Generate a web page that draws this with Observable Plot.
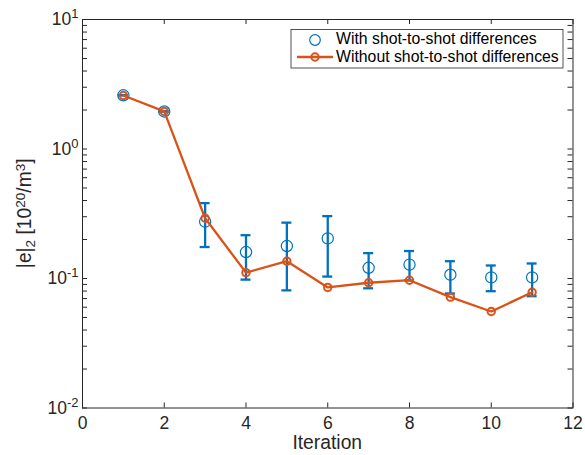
<!DOCTYPE html>
<html><head><meta charset="utf-8">
<script src="https://cdn.jsdelivr.net/npm/d3@7"></script>
<script src="https://cdn.jsdelivr.net/npm/@observablehq/plot@0.6"></script>
<style>
body{margin:0;background:#fff;}
#chart{width:585px;height:455px;}
</style></head><body><div id="chart"></div>
<script>
// ---- data ----
const iterations = [1, 2, 3, 4, 5, 6, 7, 8, 9, 10, 11];
const withShot   = [2.60, 1.95, 0.275, 0.160, 0.178, 0.204, 0.121, 0.128, 0.107, 0.102, 0.102];
const withLo     = [2.60, 1.95, 0.175, 0.098, 0.081, 0.1035, 0.084, 0.0966, 0.0766, 0.0798, 0.073];
const withHi     = [2.60, 1.95, 0.382, 0.216, 0.270, 0.303, 0.157, 0.163, 0.136, 0.126, 0.1306];
const withoutShot = [2.59, 1.95, 0.292, 0.111, 0.136, 0.0853, 0.0927, 0.097, 0.0718, 0.0556, 0.0783];
const seriesNames = ["With shot-to-shot differences", "Without shot-to-shot differences"];
const xTicks = [0, 2, 4, 6, 8, 10, 12];
const yMajorTicks = [0.01, 0.1, 1, 10];
const yTickLabels = ["10^-2", "10^-1", "10^0", "10^1"];
const xLabel = "Iteration";

// ---- layout / style ----
const W = 585, H = 455, mL = 82, mR = 12.5, mT = 19, mB = 47.5;
const innerW = W - mL - mR, innerH = H - mT - mB;
const blue = "#0072BD", orange = "#D95319", axisColor = "#262626";
const font = '"Liberation Sans", Arial, Helvetica, sans-serif';
const tickLen = 5;

const yMinorTicks = yMajorTicks.slice(0, -1).flatMap(d => d3.range(2, 10).map(k => k * d));
const yAllTicks = yMajorTicks.concat(yMinorTicks);

const rows = iterations.map((x, i) => ({x, w: withShot[i], lo: withLo[i], hi: withHi[i], wo: withoutShot[i]}));

const plot = Plot.plot({
  width: W, height: H,
  marginLeft: mL, marginRight: mR, marginTop: mT, marginBottom: mB,
  style: {fontFamily: font, fontSize: "17.5px", color: axisColor, background: "#fff", overflow: "visible"},
  x: {domain: [0, 12], label: null},
  y: {type: "log", domain: [0.01, 10], label: null},
  marks: [
    Plot.axisX({ticks: xTicks, tickSize: 0, tickPadding: 9, label: null, tickFormat: d => String(d)}),
    Plot.axisY({ticks: yMajorTicks, tickSize: 0, tickPadding: 4, label: null,
      tickFormat: d => yTickLabels[yMajorTicks.indexOf(d)]}),
    // inward ticks on all four sides
    Plot.ruleX(xTicks, {insetTop: innerH - tickLen, stroke: axisColor}),
    Plot.ruleX(xTicks, {insetBottom: innerH - tickLen, stroke: axisColor}),
    Plot.ruleY(yAllTicks, {insetRight: innerW - tickLen, stroke: axisColor}),
    Plot.ruleY(yAllTicks, {insetLeft: innerW - tickLen, stroke: axisColor}),
    // with shot-to-shot: error bars + circles
    Plot.ruleX(rows, {x: "x", y1: "lo", y2: "hi", stroke: blue, strokeWidth: 2.3}),
    Plot.ruleY(rows, {y: "lo", x1: "x", x2: "x", insetLeft: -5, insetRight: -5, stroke: blue, strokeWidth: 2.3}),
    Plot.ruleY(rows, {y: "hi", x1: "x", x2: "x", insetLeft: -5, insetRight: -5, stroke: blue, strokeWidth: 2.3}),
    Plot.dot(rows, {x: "x", y: "w", r: 5.6, stroke: blue, strokeWidth: 1.2, fill: "none"}),
    // without shot-to-shot: line + markers
    Plot.line(rows, {x: "x", y: "wo", stroke: orange, strokeWidth: 2.3}),
    Plot.dot(rows, {x: "x", y: "wo", r: 3.7, stroke: orange, strokeWidth: 2, fill: "none"}),
    Plot.frame({stroke: axisColor, strokeWidth: 1})
  ]
});

const svg = d3.select(plot);

// superscript exponents on y tick labels
svg.selectAll('[aria-label="y-axis tick label"] text').each(function() {
  const t = this.textContent;
  if (t.includes("^")) {
    const [b, e] = t.split("^");
    this.textContent = b;
    d3.select(this).append("tspan").attr("dy", -7).attr("font-size", "13px").text(e);
  }
});

// x-axis label
svg.append("text")
  .attr("x", mL + innerW / 2).attr("y", 449)
  .attr("text-anchor", "middle")
  .attr("font-family", font).attr("font-size", "19.3px").attr("fill", axisColor)
  .text(xLabel);

// y-axis label
const yl = svg.append("text")
  .attr("transform", `translate(31,${mT + innerH / 2}) rotate(-90)`)
  .attr("text-anchor", "middle")
  .attr("font-family", font).attr("font-size", "19.3px").attr("fill", axisColor);
yl.append("tspan").text("|e|");
yl.append("tspan").attr("font-size", "13.5px").attr("dy", 4).text("2");
yl.append("tspan").attr("dy", -4).text(" [10");
yl.append("tspan").attr("font-size", "13.5px").attr("dy", -6).text("20");
yl.append("tspan").attr("dy", 6).text("/m");
yl.append("tspan").attr("font-size", "13.5px").attr("dy", -6).text("3");
yl.append("tspan").attr("dy", 6).text("]");

// legend
const lg = svg.append("g").attr("font-family", font).attr("font-size", "15.8px")
  .attr("fill", "#000").attr("text-anchor", "start");
lg.append("rect").attr("x", 291).attr("y", 29.5).attr("width", 272).attr("height", 38.5)
  .attr("fill", "#fff").attr("stroke", axisColor).attr("stroke-width", 0.8);
lg.append("circle").attr("cx", 315).attr("cy", 40).attr("r", 5.3)
  .attr("fill", "none").attr("stroke", blue).attr("stroke-width", 1.2);
lg.append("text").attr("x", 336).attr("y", 44).attr("text-anchor", "start").text(seriesNames[0]);
lg.append("line").attr("x1", 297).attr("x2", 333).attr("y1", 57).attr("y2", 57)
  .attr("stroke", orange).attr("stroke-width", 2.3);
lg.append("circle").attr("cx", 315).attr("cy", 57).attr("r", 3.7)
  .attr("fill", "none").attr("stroke", orange).attr("stroke-width", 2);
lg.append("text").attr("x", 336).attr("y", 62).attr("text-anchor", "start").text(seriesNames[1]);

document.getElementById("chart").appendChild(plot);
</script>
</body></html>
